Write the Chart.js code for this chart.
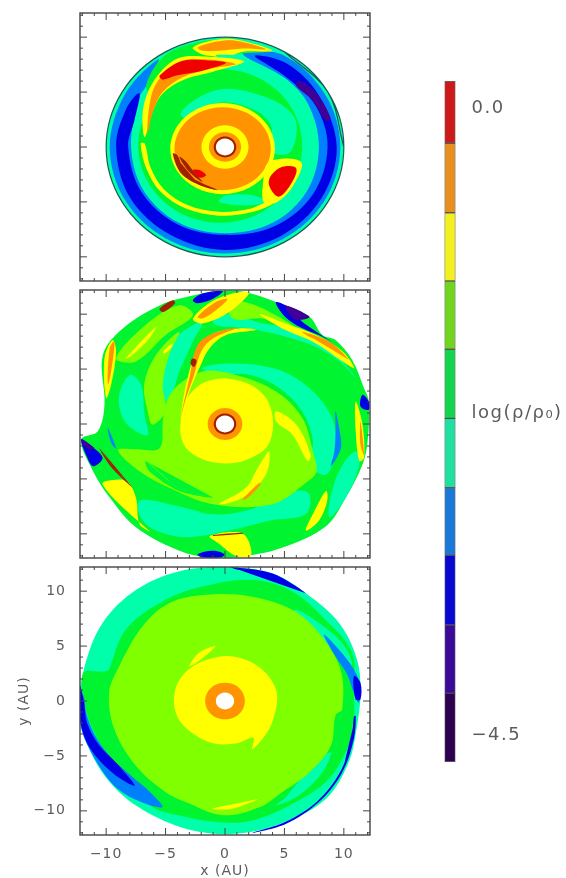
<!DOCTYPE html>
<html>
<head>
<meta charset="utf-8">
<script src="https://cdn.jsdelivr.net/npm/chart.js"></script>
<style>
  html, body { margin: 0; background: #fff; }
  body { position: relative; width: 566px; height: 878px; overflow: hidden; }
  canvas { position: absolute; filter: blur(0.6px); }
</style>
</head>
<body>
<canvas id="top" width="298" height="276" style="left:76px;top:9px"></canvas>
<canvas id="middle" width="298" height="276" style="left:76px;top:286px"></canvas>
<canvas id="bottom" width="374" height="315" style="left:0;top:563px"></canvas>
<canvas id="bar" width="126" height="692" style="left:440px;top:76px"></canvas>
<script>
// tick positions and colour bar values
const majorTicks = [-10, -5, 0, 5, 10];
const minorTicks = [-12, -11, -9, -8, -7, -6, -4, -3, -2, -1, 1, 2, 3, 4, 6, 7, 8, 9, 11, 12];
const barEdges = [0.194, -0.253, -0.752, -1.242, -1.732, -2.228, -2.726, -3.209, -3.711, -4.202, -4.695];
const barColors = ['#cc1a1a', '#e8901f', '#f2f01f', '#72d41f', '#12d44e', '#1fe0a0', '#1a78d8', '#0808d0', '#3a0a98', '#300050'];
const barTickValues = [0, -2.19, -4.5];
const barTickLabels = ['0.0', 'log(ρ/ρ₀)', '−4.5'];

// contour levels, lowest density last
const RED = '#f00000', ORANGE = '#ff9400', YELLOW = '#ffff00', LIME = '#80ff00', GREEN = '#00f530';
const AQUA = '#00ffaa', SKY = '#0080ff', BLUE = '#0000e6', PURPLE = '#400098', DARK = '#a02000', WHITE = '#ffffff';

// rings shared by the panels (x, y in AU)
const hole = [.77,0, .67,.39, .39,.67, 0,.77, -.39,.67, -.67,.39, -.77,0, -.67,-.39, -.39,-.67, 0,-.77, .39,-.67, .67,-.39];
const innerDark = [.95,0, .82,.48, .48,.82, 0,.95, -.48,.82, -.82,.48, -.95,0, -.82,-.48, -.48,-.82, 0,-.95, .48,-.82, .82,-.48];
const orangeSmall = [1.35,0, 1.17,.68, .68,1.17, 0,1.35, -.68,1.17, -1.17,.68, -1.35,0, -1.17,-.68, -.68,-1.17, 0,-1.35, .68,-1.17, 1.17,-.68];
const orangeMid = [1.46,0, 1.26,.73, .73,1.26, 0,1.46, -.73,1.26, -1.26,.73, -1.46,0, -1.26,-.73, -.73,-1.26, 0,-1.46, .73,-1.26, 1.26,-.73];
const orangeBig = [1.67,0, 1.45,.84, .84,1.45, 0,1.67, -.84,1.45, -1.45,.84, -1.67,0, -1.45,-.84, -.84,-1.45, 0,-1.67, .84,-1.45, 1.45,-.84];
const yellowSmall = [1.98,0, 1.71,.99, .99,1.71, 0,1.98, -.99,1.71, -1.71,.99, -1.98,0, -1.71,-.99, -.99,-1.71, 0,-1.98, .99,-1.71, 1.71,-.99];

// top panel
const t_base = [10,0, 8.66,5, 5,8.66, 0,10, -5,8.66, -8.66,5, -10,0, -8.66,-5, -5,-8.66, 0,-10, 5,-8.66, 8.66,-5];
const t_skyArm = [1.5,8.5, 4.85,8.4, 8.4,4.85, 9.7,0, 8.4,-4.85, 4.85,-8.4, 0,-9.7, -4.85,-8.4, -8.4,-4.85, -9.7,0, -8.4,4.85, -5.6,8, -6.6,5.6, -7.2,4.5, -7.9,0, -6.85,-3.95, -3.95,-6.85, 0,-7.85, 4,-6.9, 6.9,-4, 7.9,0, 7,3.9, 5,6.3];
const t_blueArm = [2.5,8.3, 5.2,7.6, 7.9,4.7, 9.4,0, 8.1,-4.7, 4.7,-8.1, 0,-9.37, -4.6,-8, -8,-4.6, -9.16,0, -8.3,3.5, -7.2,4.9, -7.6,2.5, -8.15,0, -7.05,-4.05, -4.05,-7, 0,-8, 4.2,-7.2, 7.4,-4.3, 8.63,0, 7.6,3.8, 5.1,6.4];
const t_purple = [6.25,6.04, 7.65,4.98, 8.9,2.57, 8.43,2.42, 7.37,4.23, 5.97,5.59];
const t_topGreen = [-6.64,5.6, -5.1,8.3, -2.4,9.5, .9,9.76, 3.7,8.76, .9,8.46, -1.9,7.85, -4.7,6.2, -6,4.7];
const t_topYellow = [-2.7,9.06, -.76,9.76, 1.06,9.76, 4,8.76, 1.5,8.67, .08,8.16, -1.3,8.3, -2,8.46];
const t_topOrange = [-2.3,9.06, -.76,9.58, .9,9.67, 3.45,8.9, 1.5,8.97, -.48,8.76, -1.9,8.76];
const t_topAqua = [-.76,8.37, 1.2,8.3, .9,8.07, -.48,8.07];
const t_green = [6.5,.1, 5.58,3.6, 3.05,6.16, -.4,7.1, -3.85,6.16, -6.38,3.6, -7.3,.1, -6.38,-3.4, -3.85,-5.96, -.4,-6.9, 3.05,-5.96, 5.58,-3.4];
const t_aquaUpper = [-3.7,3.17, -1.9,4.68, 0,5.29, 2.6,4.83, 4.85,3.78, 6,2.2, 5.5,-.45, 4,-.45, 3.87,1.96, 2.6,3.3, 0,4.08, -2.16,3.47, -3.3,2.57];
const t_aquaLower = [-.48,-5, 2,-5.3, 3.45,-5, 2.3,-4.4, .08,-4.4];
const t_yellowCrescent = [-7.1,.3, -6.6,-2, -5.4,-4.1, -3.3,-5.6, -.5,-6.25, 2.2,-5.95, 4,-5.2, 3.6,-5, 2,-5.65, -.5,-5.9, -3.1,-5.3, -5.1,-3.9, -6.25,-1.9, -6.75,.3];
const t_yellowDisc = [4.2,-.15, 3.6,1.93, 2,3.44, -.2,4, -2.4,3.44, -4,1.93, -4.6,-.15, -4,-2.23, -2.4,-3.74, -.2,-4.3, 2,-3.74, 3.6,-2.23];
const t_orangeDisc = [3.85,-.15, 3.3,1.74, 1.83,3.12, -.2,3.63, -2.23,3.12, -3.7,1.74, -4.25,-.15, -3.7,-2.04, -2.23,-3.42, -.2,-3.93, 1.83,-3.42, 3.3,-2.04];
const t_blobYellow = [3.7,-1.36, 6.4,-1.36, 5.7,-3.6, 4.4,-5, 3.3,-5.1, 3.2,-3.3];
const t_blobRed = [3.9,-2.56, 4.85,-1.8, 6,-1.96, 5.5,-3.47, 4.5,-4.53, 3.7,-3.47];
const t_armYellow = [-6.75,.9, -6.95,2.8, -6.6,4.7, -5.6,6.6, -4,8.05, -1.9,8.25, 1.6,7.8, -1,6.85, -3.5,6.1, -5.3,4.8, -6.2,2.9];
const t_armOrange = [-6.5,1.2, -6.4,3.47, -5.8,5.74, -4.1,7.55, -1.9,8, .9,7.55, -1.3,7.1, -3.56,6.34, -5.24,5, -6.08,3.17];
const t_armRed = [-5.5,6.5, -3.56,7.85, -1,7.85, .08,7.64, -1.9,6.95, -4.1,6.5, -5.24,6.13];
const t_streakA = [-4.4,-.6, -3.7,-2.4, -2.16,-3.47, -.6,-3.93, -2.16,-3.17, -3.4,-2.27, -4,-.75];
const t_streakB = [-3.84,-.9, -3,-2.27, -1.9,-3.17, -2.6,-2.27, -3.4,-1.2];
const t_oval = [-2.7,-2.1, -2.16,-2.1, -1.6,-2.57, -2.16,-2.78];

const topLayers = [
  [AQUA, t_base], [SKY, t_skyArm], [BLUE, t_blueArm], [PURPLE, t_purple],
  [GREEN, t_topGreen], [YELLOW, t_topYellow], [ORANGE, t_topOrange], [AQUA, t_topAqua],
  [GREEN, t_green], [AQUA, t_aquaUpper], [AQUA, t_aquaLower], [YELLOW, t_yellowCrescent],
  [YELLOW, t_yellowDisc], [ORANGE, t_orangeDisc], [YELLOW, t_blobYellow], [RED, t_blobRed],
  [YELLOW, t_armYellow], [ORANGE, t_armOrange], [RED, t_armRed],
  [DARK, t_streakA], [DARK, t_streakB], [RED, t_oval],
  [YELLOW, yellowSmall], [ORANGE, orangeSmall], [DARK, innerDark], [WHITE, hole]
];

// middle panel
const m_base = [-.2,12.1, 1.76,12, 4.3,11.1, 7.1,9.76, 8.2,8.1, 9.3,7.64, 10.7,5.83, 11.7,3.26, 12.1,2.05, 12,-1.57, 11.57,-3.69, 10.17,-6.7, 8.5,-9.3, 4.85,-11.24, 1.76,-12, -1.3,-12.15, -3.84,-11.54, -7.5,-9.4, -9.7,-6.7, -11.1,-4.3, -12.1,-1.42, -10.7,-.66, -10.14,1.75, -10.28,6.28, -8.6,8.7, -5.5,10.8, -2.7,11.7];
const m_aquaArc = [-1.9,5.08, .36,5.5, 4.3,5, 7.1,3.26, 9,.54, 9.3,-2.5, 8.5,-4.6, 7.1,-3.7, 7.4,-1.57, 6.5,1.15, 4.6,3.26, 2,4.5, -.5,4.5];
const m_aquaBand = [-1,9.6, .9,10, 2.6,9.3, 6.5,8.4, 9.3,6.3, 11,4.2, 9.3,5.98, 6.5,7.5, 2,8.7, -.76,9];
const m_aquaLeft = [-8.9,2.66, -8,4.47, -7.06,3.57, -6.78,.85, -6.5,-.97, -7.5,-.66, -8.6,.54];
const m_aquaUpperLeft = [-5.5,6.6, -3.56,8.4, -1.9,9.3, -2.7,7.5, -3.84,4.77, -4.7,2.05, -5.24,2.36, -5.5,4.17];
const m_aquaBottom = [-7.2,-7, -4.7,-7.3, -1.3,-8.2, 1.76,-7.9, 6,-6.1, 7.1,-6.4, 6.8,-8.2, 3.7,-8.8, .36,-9.7, -3.3,-10.3, -5.8,-9.7, -7.06,-8.55];
const m_aquaRight = [9,-6.1, 9.9,-3.7, 11,-2.5, 11.3,-3.7, 10.17,-6.7, 8.8,-8.5];
const m_limeBig = [-1.9,4.77, .9,4.47, 4.3,2.96, 6.5,.54, 7.4,-2.5, 7.7,-4.3, 7,-5.2, 4,-7.3, -1,-7.3, -4.7,-5.8, -7.2,-4.3, -9,-2.4, -7.5,-2.3, -5.5,-2.2, -5.2,.5, -4.5,2.9];
const m_limeLeft = [-6.8,3.57, -5.8,6.3, -3.84,8.4, -4.7,6.3, -5.24,3.57, -5,1.15, -6.1,-.06, -6.5,1.15];
const m_limeTop = [.36,11.1, 2.6,10.8, 6,8.7, 3.2,9.6, .64,9.6];
const m_limeUpperLeft = [-9.16,6, -6.36,9.3, -3.84,10.8, -2.7,9.9, -5,8.1, -7.5,5.7];
const m_greenStreak = [-6.64,-3.4, -3.84,-5.8, -1,-6.7, -3.84,-6.1, -6.36,-4.3];
const m_yellowCore = [-3.75,-.06, -3.42,1.9, -2.3,3.41, -1.04,4.02, .36,4.1, 2.18,3.56, 3.45,2.36, 4,.7, 3.95,-.97, 3.45,-2.18, 2.46,-2.93, .92,-3.53, -.76,-3.53, -2.16,-3.08, -3.28,-2.18, -3.7,-1.12];
const m_yellowRight = [4.3,1.15, 6,-.06, 7.2,-2.78, 6.95,-3.38, 5.7,-1, 4.3,.24];
const m_yellowLower = [3.7,-2.5, 3.45,-4.6, 1.5,-6.7, -.5,-7.3, 1.76,-5.8, 2.75,-4];
const m_orangeLower = [1.5,-6.86, 2.9,-5.35, 3,-5.5, 1.76,-6.86];
const m_armYellow = [-3.7,.54, -3.28,3.57, -2.3,6.9, -1,8.25, 1.2,8.7, 2.6,8.55, .1,8.1, -1.3,6.9, -2.16,5.08, -3,2.96];
const m_armOrange = [-3.7,.7, -3,4.17, -2.3,7.2, -1,8.25, .9,8.7, -1,7.8, -2,6.6, -2.6,4.47, -3.28,2.36];
const m_armDot = [-2.76,5.95, -2.4,5.8, -2.6,5.2, -2.9,5.5];
const m_ridgeYellow = [2.9,10, 5.1,9.15, 7.65,8.1, 9.9,6.6, 10.87,5.08, 9.9,5.68, 7.65,7.34, 5.1,8.55];
const m_ridgeOrange = [6.5,8.4, 8.77,7.5, 10.45,5.83, 9.3,6.9, 7.1,7.95];
const m_topYellow = [-2.7,9.6, -.76,11.36, 2,12, .36,10.2, -1.9,9.15];
const m_topOrange = [-2.3,9.76, -.76,11.1, .2,11.36, -.76,10.36, -1.9,9.6];
const m_topBlue = [-2.7,11.27, -1.9,11.87, -.2,12.1, -1,11.4, -2.3,11];
const m_ridgeBlue = [4.3,11.1, 6.25,10.2, 7.1,9.76, 6.25,9.6, 7.9,8.25, 9.05,7.46, 7.9,8.1, 6,9, 4.85,10];
const m_ridgePurple = [5.1,10.8, 7.1,9.76, 6,9.46, 5.4,10];
const m_spikeBlue = [-12.1,-1.4, -11.4,-1.87, -10.3,-3.08, -11.1,-3.84, -11.7,-2.78];
const m_spikePurple = [-12.1,-1.4, -11,-2.2, -11.5,-2.3];
const m_rightBlue = [11.57,2.66, 12.1,2.05, 12.1,1.3, 11.4,1.6];
const m_streakBlue = [9.3,1.15, 9.6,-.36, 9.75,-2.2, 8.9,-3.84, 9.2,-2.5, 9.3,-.66];
const m_leftSky = [-9.86,-.36, -9.16,-2.2, -9.58,-1.7];
const m_bottomBlue = [-2.3,-11.85, -1,-11.54, -.05,-11.85, -.34,-12.15, -1.9,-12.15];
const m_edgeYellow = [-10.14,6, -9.46,7.64, -9.16,6.6, -9.58,3.57, -10,2.36];
const m_edgeOrange = [-9.86,3.57, -9.7,6.9, -9.3,7.5, -9.58,4.77];
const m_edgeDark = [-5.5,10.5, -4.4,11.27, -4.2,11, -5.2,10.2];
const m_streakYellow = [-8.3,6, -5.8,8.85, -6.36,7.8, -7.76,6.3];
const m_dashYellow = [-5.1,6.74, -4.4,7.34, -4.6,6.8, -5.2,6.4];
const m_lowerLeftYellow = [-10,-5.2, -8.3,-5.2, -7.5,-6.7, -7.2,-9.1, -6.36,-9.73, -8.88,-7.3, -10.3,-5.5];
const m_lowerLeftDark = [-10.56,-2.2, -9.44,-3.84, -7.76,-5.8, -9.44,-4.1, -10.3,-2.78];
const m_rightYellow = [8.5,-6.1, 8.6,-7, 7.9,-8.8, 6.8,-9.7, 7.4,-8.2];
const m_sideYellow = [11,2.05, 11.57,-.06, 11.7,-3.08, 11.3,-3.38, 11,-.66];
const m_sideOrange = [11.4,.24, 11.7,-2.78, 11.4,-1.87];
const m_bottomYellow = [-1.3,-10.2, 1.5,-10, 2.2,-12, .9,-12, -.5,-10.9];
const m_bottomDark = [-1,-10.1, 1.5,-9.9, 1.5,-10, -1,-10.2];

const middleLayers = [
  [GREEN, m_base], [AQUA, m_aquaArc], [AQUA, m_aquaBand], [AQUA, m_aquaLeft], [AQUA, m_aquaUpperLeft],
  [AQUA, m_aquaBottom], [AQUA, m_aquaRight], [LIME, m_limeBig], [LIME, m_limeLeft], [LIME, m_limeTop],
  [LIME, m_limeUpperLeft], [GREEN, m_greenStreak], [YELLOW, m_yellowCore], [YELLOW, m_yellowRight], [YELLOW, m_yellowLower],
  [ORANGE, m_orangeLower], [YELLOW, m_armYellow], [ORANGE, m_armOrange], [DARK, m_armDot],
  [YELLOW, m_ridgeYellow], [ORANGE, m_ridgeOrange], [YELLOW, m_topYellow], [ORANGE, m_topOrange],
  [BLUE, m_topBlue], [BLUE, m_ridgeBlue], [PURPLE, m_ridgePurple], [BLUE, m_spikeBlue], [PURPLE, m_spikePurple],
  [BLUE, m_rightBlue], [SKY, m_streakBlue], [SKY, m_leftSky], [BLUE, m_bottomBlue],
  [YELLOW, m_edgeYellow], [ORANGE, m_edgeOrange], [DARK, m_edgeDark], [YELLOW, m_streakYellow], [YELLOW, m_dashYellow],
  [YELLOW, m_lowerLeftYellow], [DARK, m_lowerLeftDark], [YELLOW, m_rightYellow], [YELLOW, m_sideYellow],
  [ORANGE, m_sideOrange], [YELLOW, m_bottomYellow], [DARK, m_bottomDark],
  [ORANGE, orangeMid], [DARK, innerDark], [WHITE, hole]
];

// bottom panel
const b_base = [0,12.2, 4,11.6, 6.8,9.8, 9.6,7.1, 11.1,3.8, 11.4,.75, 11.1,-2.3, 10.4,-5.6, 8.5,-8.9, 5.1,-11, 1.7,-12, -2.2,-11.9, -6.1,-10.4, -9.2,-8, -11.4,-4.4, -12.2,-.15, -11.8,3.2, -10.3,7.1, -7.5,10.1, -3.9,11.8];
const b_green = [-9.75,2.87, -8.35,6.5, -5.27,9.06, -1.9,10.42, 2.3,11.03, 5.66,9.97, 8.46,7.4, 10.7,4.38, 10.84,.76, 10.84,-2.27, 10.28,-4.38, 8.74,-7.1, 5.94,-9.21, 2.3,-10.88, -.5,-11.03, -3.87,-10.42, -6.1,-9.67, -8.9,-6.8, -10.87,-3.17, -11.85,-.15, -11.93,2.57];
const b_skyLower = [-12.2,.5, -12.2,-2, -11.4,-4.4, -9.5,-7.5, -7.5,-9, -5.27,-9.67, -6.4,-8.2, -7.8,-6.9, -9.7,-5, -11,-3, -11.7,-1, -11.9,.5];
const b_blueLower = [-12.2,1.36, -12.2,-1.66, -11.4,-4.2, -9.4,-6.6, -7.6,-7.7, -9,-5.8, -10.6,-4, -11.6,-2, -11.85,-.15];
const b_aquaRight = [8.9,-4.68, 8.18,-6.5, 6.22,-8.6, 4.26,-9.5, 5.1,-8.76, 7.34,-5.9];
const b_aquaUpper = [5.94,8.3, 7.9,7.1, 9.86,5.29, 10.7,3.47, 10.28,3.17, 9.02,4.68, 7.34,6.19, 5.94,7.4];
const b_skyRight = [8.32,6.04, 9.58,4.68, 10.84,2.87, 11.4,1.36, 11.26,-.15, 10.84,.76, 10.28,2.42, 9.3,4.08];
const b_blueRight = [10.84,2.27, 11.4,1.66, 11.4,.15, 10.98,.15];
const b_rimLower = [11,-1.36, 10.84,-3.47, 9.86,-6.5, 7.9,-9.2, 5.1,-11.2, 2.3,-12, 5.1,-11, 7.8,-9.1, 9.7,-6.45, 10.65,-3.45, 10.85,-1.4];
const b_rimUpper = [.5,12.2, 4,11.6, 6.8,9.8, 4.2,11.25, .9,12];
const b_lime = [-9.75,.76, -8.9,3.17, -6.94,6.8, -4.7,8.9, -1.6,9.67, 2.3,9.5, 5.66,8.3, 7.9,6.2, 9.72,2.87, 9.86,-.76, 9.3,-1.3, 8.9,-4.1, 7.1,-6.5, 4.8,-8.3, 2.9,-9.67, -.2,-10.4, -3.3,-9.2, -5,-8.3, -7.5,-5.9, -9.3,-2.6];
const b_streak = [-1.06,-9.8, .6,-9.8, 2.86,-8.9, 1.7,-9.2];
const b_crescent = [-3,3.17, -2.2,4.38, -.8,5, -2,3.8];
const b_yellow = [4.4,.2, 4.1,-1.5, 3.55,-2.85, 2.3,-4.4, 2.4,-3.35, 1,-3.85, -1,-3.85, -2.85,-2.85, -4,-1.45, -4.3,.2, -3.9,1.8, -2.9,3, -1.5,3.75, .2,4.1, 2,3.65, 3.4,2.6, 4.15,1.4];

const bottomLayers = [
  [AQUA, b_base], [GREEN, b_green], [SKY, b_skyLower], [BLUE, b_blueLower], [AQUA, b_aquaRight],
  [AQUA, b_aquaUpper], [LIME, b_lime], [SKY, b_skyRight], [BLUE, b_blueRight], [BLUE, b_rimLower], [BLUE, b_rimUpper],
  [YELLOW, b_streak], [YELLOW, b_crescent], [YELLOW, b_yellow], [ORANGE, orangeBig], [WHITE, hole]
];

const AXIS_MAX = 12.2;
const TEXT = '#5c5c5c';
const tickFont = { family: 'DejaVu Sans', size: 14 };

// IDL style box: frame and inward ticks on all four sides
const frameTicks = {
  id: 'frameTicks',
  afterDatasetsDraw(chart) {
    const { ctx, chartArea: a, scales: { x, y } } = chart;
    ctx.save();
    ctx.strokeStyle = '#444';
    ctx.lineWidth = 1;
    const mark = (list, len) => {
      list.forEach(v => {
        const px = x.getPixelForValue(v), py = y.getPixelForValue(v);
        ctx.beginPath();
        ctx.moveTo(px, a.top); ctx.lineTo(px, a.top + len);
        ctx.moveTo(px, a.bottom); ctx.lineTo(px, a.bottom - len);
        ctx.moveTo(a.left, py); ctx.lineTo(a.left + len, py);
        ctx.moveTo(a.right, py); ctx.lineTo(a.right - len, py);
        ctx.stroke();
      });
    };
    mark(majorTicks, 7);
    mark(minorTicks, 3);
    ctx.lineWidth = 1.4;
    ctx.strokeRect(a.left, a.top, a.right - a.left, a.bottom - a.top);
    ctx.restore();
  }
};

// the original lettering runs wider than DejaVu
const wideText = px => ({
  id: 'wideText',
  beforeDraw(chart) { chart.ctx.letterSpacing = px + 'px'; }
});

// the first points are repeated so the spline runs smoothly through the join
const toPoints = flat => {
  const pts = [];
  for (let i = 0; i < flat.length; i += 2) pts.push({ x: flat[i], y: flat[i + 1] });
  pts.push(pts[0], pts[1], pts[2]);
  return pts;
};

const minusLabel = v => String(v).replace('-', '−');

function drawPanel(id, layers, withAxes) {
  new Chart(document.getElementById(id), {
    type: 'scatter',
    data: {
      datasets: layers.map(([color, flat], i) => ({
        data: toPoints(flat),
        order: layers.length - i, // first layer at the back
        showLine: true,
        fill: 'shape',
        tension: 0.35,
        pointRadius: 0,
        backgroundColor: color,
        borderColor: flat === t_base ? '#1c5a5a' : color,
        borderWidth: flat === t_base ? 1.2 : 0
      }))
    },
    options: {
      responsive: false,
      animation: false,
      layout: { padding: withAxes ? { top: 4, right: 4 } : 4 },
      plugins: { legend: { display: false }, tooltip: { enabled: false } },
      scales: {
        x: {
          display: withAxes,
          min: -AXIS_MAX, max: AXIS_MAX,
          afterBuildTicks: s => { s.ticks = majorTicks.map(value => ({ value })); },
          afterFit: s => { if (withAxes) s.height = 43; s.paddingLeft = 0; s.paddingRight = 0; },
          grid: { display: false },
          border: { display: false },
          ticks: { color: TEXT, font: tickFont, padding: 3, maxRotation: 0, autoSkip: false, callback: minusLabel },
          title: { display: withAxes, text: 'x (AU)', color: TEXT, font: tickFont, padding: { top: 0, bottom: -2 } }
        },
        y: {
          display: withAxes,
          min: -AXIS_MAX, max: AXIS_MAX,
          afterBuildTicks: s => { s.ticks = majorTicks.map(value => ({ value })); },
          afterFit: s => { if (withAxes) s.width = 80; s.paddingTop = 0; s.paddingBottom = 0; },
          grid: { display: false },
          border: { display: false },
          ticks: { color: TEXT, font: tickFont, padding: 6, autoSkip: false, callback: minusLabel },
          title: { display: withAxes, text: 'y (AU)', color: TEXT, font: tickFont, padding: { top: 16, bottom: 0 } }
        }
      }
    },
    plugins: [frameTicks, wideText(1)]
  });
}

drawPanel('top', topLayers, false);
drawPanel('middle', middleLayers, false);
drawPanel('bottom', bottomLayers, true);

// colour bar: one floating bar per contour level
new Chart(document.getElementById('bar'), {
  type: 'bar',
  data: {
    labels: ['level'],
    datasets: barColors.map((color, i) => ({
      data: [[barEdges[i + 1], barEdges[i]]],
      backgroundColor: color,
      borderColor: 'rgba(20,20,20,0.65)',
      borderWidth: 1,
      borderSkipped: false,
      grouped: false,
      barPercentage: 1,
      categoryPercentage: 1
    }))
  },
  options: {
    responsive: false,
    animation: false,
    layout: { padding: { left: 4.5, top: 5, bottom: 6 } },
    plugins: { legend: { display: false }, tooltip: { enabled: false } },
    scales: {
      x: { display: false },
      y: {
        position: 'right',
        min: barEdges[barEdges.length - 1], max: barEdges[0],
        afterBuildTicks: s => { s.ticks = barTickValues.map(value => ({ value })); },
        afterFit: s => { s.width = 110.5; s.paddingTop = 0; s.paddingBottom = 0; },
        grid: { display: false },
        border: { display: false },
        ticks: {
          color: TEXT,
          font: { family: 'DejaVu Sans', size: 18 },
          padding: 8,
          autoSkip: false,
          callback: v => barTickLabels[barTickValues.indexOf(v)]
        }
      }
    }
  },
  plugins: [wideText(1.5)]
});
</script>
</body>
</html>
